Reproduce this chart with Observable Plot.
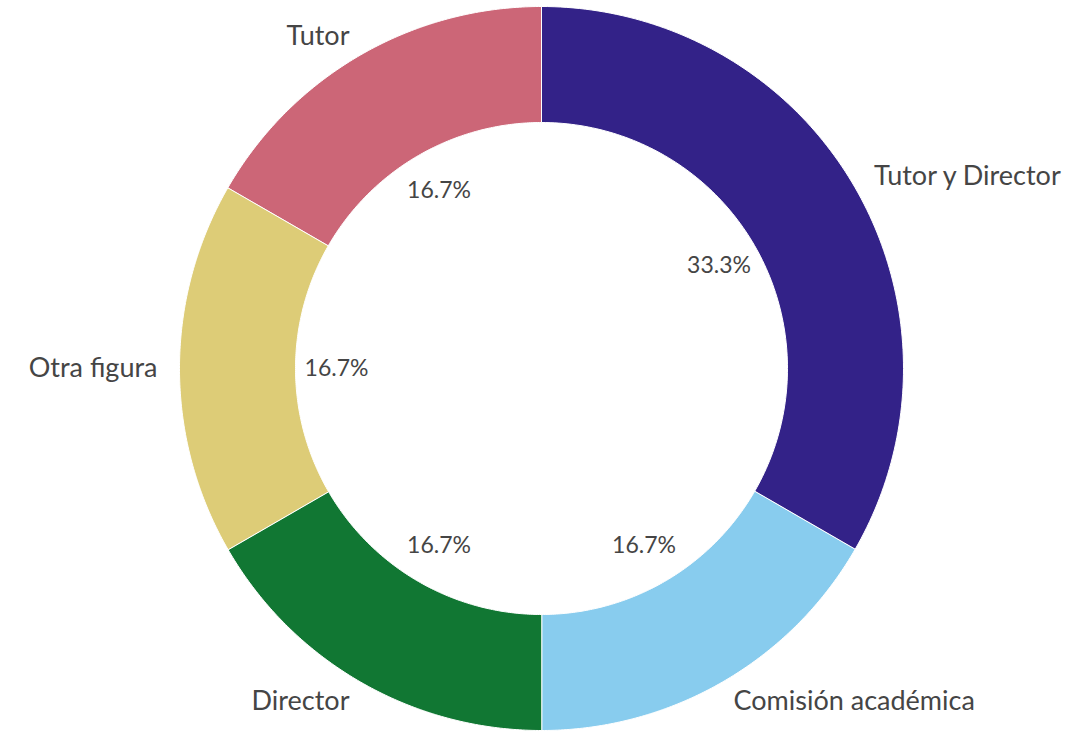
<!DOCTYPE html>
<html><head><meta charset="utf-8">
<script src="https://cdn.jsdelivr.net/npm/d3@7"></script>
<script src="https://cdn.jsdelivr.net/npm/@observablehq/plot@0.6"></script>
<style>body{margin:0;background:#fff;font-family:Lato,sans-serif}</style>
</head><body><div id="chart"></div>
<script>
const categories = ["Tutor y Director", "Comisión académica", "Director", "Otra figura", "Tutor"];
const values = [2, 1, 1, 1, 1];
const percentLabels = ["33.3%", "16.7%", "16.7%", "16.7%", "16.7%"];
const colors = ["#332288", "#88CCEE", "#117733", "#DDCC77", "#CC6677"];

const W = 1088, H = 733, cx = 541, cy = 368;
const R0 = 246, R1 = 362;
const total = d3.sum(values);
let acc = 0;
const slices = categories.map((c, i) => {
  const a0 = acc / total * 2 * Math.PI; acc += values[i];
  const a1 = acc / total * 2 * Math.PI;
  return {c, i, a0, a1, mid: (a0 + a1) / 2};
});
const pts = [];
for (const s of slices) {
  const n = 120;
  for (let k = 0; k <= n; k++) { const a = s.a0 + (s.a1 - s.a0) * k / n; pts.push({c: s.c, x: R1 * Math.sin(a), y: -R1 * Math.cos(a)}); }
  for (let k = n; k >= 0; k--) { const a = s.a0 + (s.a1 - s.a0) * k / n; pts.push({c: s.c, x: R0 * Math.sin(a), y: -R0 * Math.cos(a)}); }
}
const outer = slices.map(s => ({t: s.c, x: 384 * Math.sin(s.mid), y: -384 * Math.cos(s.mid), anchor: Math.sin(s.mid) >= 0 ? "start" : "end"}));
const inner = slices.map(s => ({t: percentLabels[s.i], x: 205 * Math.sin(s.mid), y: -205 * Math.cos(s.mid)}));

const chart = Plot.plot({
  width: W, height: H, margin: 0,
  x: {domain: [-cx, W - cx], range: [0, W], axis: null},
  y: {domain: [-cy, H - cy], range: [0, H], axis: null},
  color: {domain: categories, range: colors},
  style: {fontFamily: "Lato, sans-serif", background: "#fff"},
  marks: [
    Plot.line(pts, {x: "x", y: "y", z: "c", fill: "c", stroke: "#fff", strokeWidth: 1, curve: "linear-closed"}),
    Plot.text(outer.filter(d => d.anchor === "start"), {x: "x", y: "y", text: "t", textAnchor: "start", fontSize: 27, fill: "#454545"}),
    Plot.text(outer.filter(d => d.anchor === "end"), {x: "x", y: "y", text: "t", textAnchor: "end", fontSize: 27, fill: "#454545"}),
    Plot.text(inner, {x: "x", y: "y", text: "t", fontSize: 23, fill: "#454545"})
  ]
});
document.getElementById("chart").appendChild(chart);
</script></body></html>
